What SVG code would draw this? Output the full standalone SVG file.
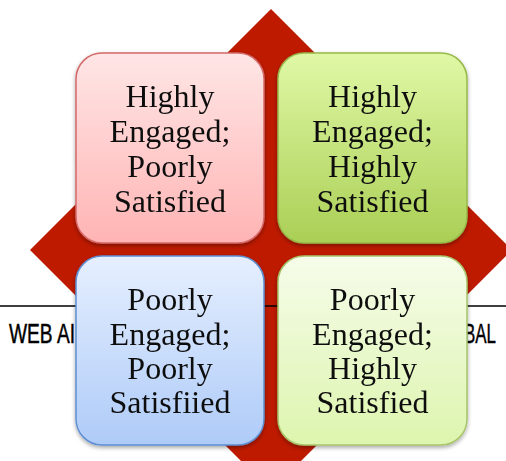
<svg xmlns="http://www.w3.org/2000/svg" width="506" height="461" viewBox="0 0 506 461">
  <style>
    .lbl { font-family: "Liberation Serif", "Times New Roman", serif; font-size: 32px; fill: #111; text-anchor: middle; }
    .hdr { font-family: "Liberation Sans Narrow", "Liberation Sans", Arial, sans-serif; font-size: 28px; fill: #000; stroke: #000; stroke-width: 0.5; }
    .box { stroke-width: 1.5; }
  </style>
  <defs>
    <linearGradient id="gPink" x1="0" y1="0" x2="0" y2="1">
      <stop offset="0" stop-color="#FFE6E6"/>
      <stop offset="1" stop-color="#FFB4B4"/>
    </linearGradient>
    <linearGradient id="gGreen" x1="0" y1="0" x2="0" y2="1">
      <stop offset="0" stop-color="#E0F8A6"/>
      <stop offset="1" stop-color="#AACF55"/>
    </linearGradient>
    <linearGradient id="gBlue" x1="0" y1="0" x2="0" y2="1">
      <stop offset="0" stop-color="#E6EFFF"/>
      <stop offset="1" stop-color="#AECBF8"/>
    </linearGradient>
    <linearGradient id="gLight" x1="0" y1="0" x2="0" y2="1">
      <stop offset="0" stop-color="#F6FCEA"/>
      <stop offset="1" stop-color="#DDF5AE"/>
    </linearGradient>
    <filter id="sh" x="-10%" y="-10%" width="120%" height="125%">
      <feGaussianBlur in="SourceAlpha" stdDeviation="2"/>
      <feOffset dx="0" dy="2" result="b"/>
      <feComponentTransfer><feFuncA type="linear" slope="0.35"/></feComponentTransfer>
      <feMerge><feMergeNode/><feMergeNode in="SourceGraphic"/></feMerge>
    </filter>
  </defs>
  <rect width="506" height="461" fill="#FFFFFF"/>
  <polygon points="271,9 512,250 271,491 30,250" fill="#BE1A00"/>
  <line x1="0" y1="306" x2="506" y2="306" stroke="#000" stroke-width="1.5"/>
  <text class="hdr" x="9" y="343" textLength="66" lengthAdjust="spacingAndGlyphs">WEB AI</text>
  <text class="hdr" x="464" y="343" textLength="32" lengthAdjust="spacingAndGlyphs">BAL</text>
  <g id="connectors"></g>
  <g id="node-hepS" filter="url(#sh)">
    <rect class="box" x="76" y="53" width="188" height="190" rx="26" fill="url(#gPink)" stroke="#D46A6A"/>
    <text class="lbl" x="170" y="107">Highly</text>
    <text class="lbl" x="170" y="142">Engaged;</text>
    <text class="lbl" x="170" y="177">Poorly</text>
    <text class="lbl" x="170" y="212">Satisfied</text>
  </g>
  <g id="node-hehS" filter="url(#sh)">
    <rect class="box" x="278" y="53" width="189" height="190" rx="26" fill="url(#gGreen)" stroke="#97B94A"/>
    <text class="lbl" x="372.5" y="107">Highly</text>
    <text class="lbl" x="372.5" y="142">Engaged;</text>
    <text class="lbl" x="372.5" y="177">Highly</text>
    <text class="lbl" x="372.5" y="212">Satisfied</text>
  </g>
  <g id="node-pepS" filter="url(#sh)">
    <rect class="box" x="76" y="256" width="188" height="189" rx="26" fill="url(#gBlue)" stroke="#5E8FD2"/>
    <text class="lbl" x="170" y="310">Poorly</text>
    <text class="lbl" x="170" y="345">Engaged;</text>
    <text class="lbl" x="170" y="379">Poorly</text>
    <text class="lbl" x="170" y="413">Satisfiied</text>
  </g>
  <g id="node-pehS" filter="url(#sh)">
    <rect class="box" x="278" y="256" width="189" height="189" rx="26" fill="url(#gLight)" stroke="#A7C46A"/>
    <text class="lbl" x="372.5" y="310">Poorly</text>
    <text class="lbl" x="372.5" y="345">Engaged;</text>
    <text class="lbl" x="372.5" y="379">Highly</text>
    <text class="lbl" x="372.5" y="413">Satisfied</text>
  </g>
</svg>
